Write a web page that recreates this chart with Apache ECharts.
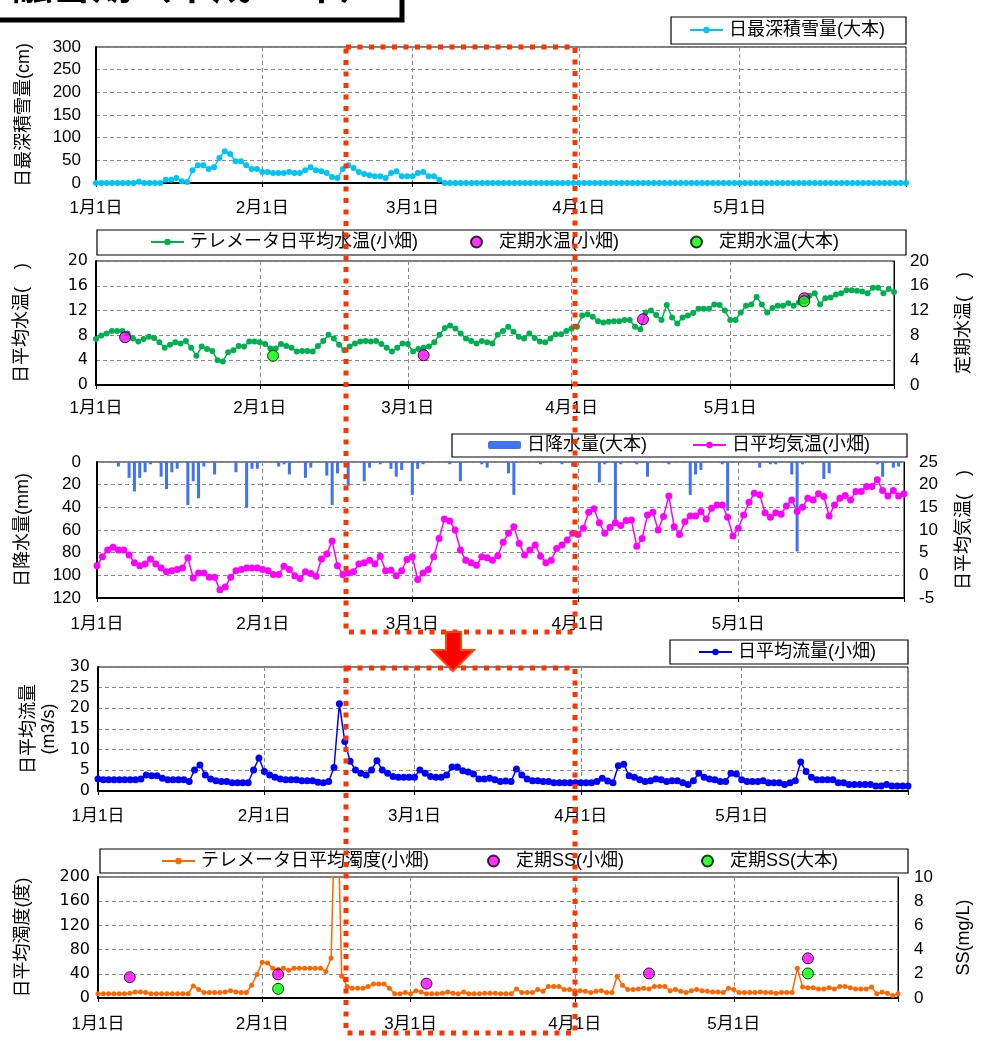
<!DOCTYPE html>
<html>
<head>
<meta charset="utf-8">
<script src="https://cdn.jsdelivr.net/npm/echarts@6/dist/echarts.min.js"></script>
<style>
  html, body { margin: 0; padding: 0; background: #fff; }
  #chart { width: 982px; height: 1042px; }
</style>
</head>
<body>
<div id="chart"></div>
<script>
// x axis: day index from 1月1日 (0) to 6月1日 (151)
const monthTicks = [0, 31, 59, 90, 120];
const monthLabels = ['1月1日', '2月1日', '3月1日', '4月1日', '5月1日'];
const lastDay = 151;

// 日最深積雪量(大本) cm, one value per day
const snowDepth = [
  0, 0, 0, 0, 0, 0, 0, 0, 3, 0, 0, 0, 0, 7, 7, 11, 4, 2, 28, 39,
  39, 31, 35, 55, 70, 64, 48, 48, 39, 31, 31, 24, 24, 22, 22, 22, 24, 22, 22, 28,
  35, 28, 26, 22, 13, 11, 31, 39, 33, 24, 20, 17, 15, 15, 11, 22, 26, 15, 15, 15,
  22, 24, 15, 15, 7, 0, 0, 0, 0, 0, 0, 0, 0, 0, 0, 0, 0, 0, 0, 0,
  0, 0, 0, 0, 0, 0, 0, 0, 0, 0, 0, 0, 0, 0, 0, 0, 0, 0, 0, 0,
  0, 0, 0, 0, 0, 0, 0, 0, 0, 0, 0, 0, 0, 0, 0, 0, 0, 0, 0, 0,
  0, 0, 0, 0, 0, 0, 0, 0, 0, 0, 0, 0, 0, 0, 0, 0, 0, 0, 0, 0,
  0, 0, 0, 0, 0, 0, 0, 0, 0, 0, 0, 0
];

// テレメータ日平均水温(小畑)
const waterTemp = [
  7.4, 8.0, 8.3, 8.7, 8.7, 8.7, 8.3, 7.5, 7.0, 7.4, 7.8, 7.6, 6.9, 6.0, 6.5, 6.9, 6.7, 7.1, 6.0, 4.7,
  6.2, 5.8, 5.5, 4.0, 3.8, 5.3, 5.6, 6.3, 6.2, 7.0, 7.0, 6.9, 6.6, 5.9, 5.9, 6.6, 6.3, 6.0, 5.4, 5.5,
  5.5, 5.4, 6.3, 7.1, 8.1, 7.5, 6.5, 5.6, 6.2, 6.7, 7.0, 7.1, 7.0, 7.1, 6.6, 6.0, 5.4, 6.0, 6.7, 6.6,
  5.4, 5.8, 6.0, 6.2, 6.9, 8.1, 9.2, 9.6, 9.1, 8.3, 7.5, 7.1, 6.7, 7.1, 6.9, 6.7, 8.1, 8.7, 9.4, 8.6,
  7.8, 7.5, 8.3, 7.6, 7.0, 6.9, 7.5, 8.2, 8.2, 8.7, 9.1, 9.4, 11.2, 11.4, 11.0, 10.3, 10.1, 10.2, 10.3, 10.3,
  10.5, 10.5, 9.4, 9.0, 11.7, 12.0, 11.3, 10.5, 12.9, 10.9, 9.9, 10.9, 11.2, 11.6, 12.3, 12.3, 12.3, 13.0, 12.9, 12.0,
  10.5, 10.5, 11.7, 12.8, 13.0, 14.2, 13.0, 11.7, 12.4, 12.8, 12.8, 13.2, 12.8, 13.3, 14.0, 14.4, 14.8, 13.0, 14.0, 14.1,
  14.6, 14.8, 15.3, 15.3, 15.2, 15.1, 14.8, 15.7, 15.7, 14.8, 15.5, 15.0
];
// 定期水温
const tempObataDays = [5.5, 62, 103.5, 134];
const tempObata = [7.7, 4.8, 10.6, 14.0];
const tempOhmotoDays = [33.5, 134];
const tempOhmoto = [4.7, 13.5];

// 日降水量(大本) mm
const rainDays = [4, 6, 7, 8, 9, 10, 12, 13, 14, 15, 17, 18, 19, 20, 22, 26, 28, 29, 30, 34,
  35, 36, 39, 40, 43, 44, 45, 47, 50, 51, 53, 55, 56, 57, 59, 60, 61, 66, 68, 72,
  73, 77, 78, 83, 87, 89, 94, 95, 97, 98, 101, 103, 107, 111, 112, 113, 117, 118, 124, 126,
  127, 130, 131, 132, 136, 137, 146, 147, 149, 150];
const rainMm = [4, 14, 26, 14, 9, 2, 13, 24, 9, 6, 38, 17, 32, 4, 11, 9, 40, 6, 6, 4,
  2, 11, 14, 5, 12, 38, 10, 21, 17, 5, 2, 6, 13, 7, 29, 6, 2, 2, 17, 2,
  5, 10, 29, 2, 2, 4, 18, 2, 51, 2, 2, 13, 2, 29, 11, 7, 2, 43, 5, 2,
  2, 11, 79, 2, 15, 10, 2, 13, 5, 4];

// 日平均気温(小畑)
const airTemp = [
  2.1, 4.1, 5.6, 6.2, 5.6, 5.6, 4.5, 2.8, 2.1, 2.5, 3.6, 2.5, 1.6, 0.8, 1.0, 1.3, 1.6, 3.9, -0.6, 0.5,
  0.5, -0.4, -0.4, -3.2, -2.6, -0.4, 1.0, 1.3, 1.6, 1.6, 1.6, 1.3, 1.0, 0.2, 0.2, 2.0, 1.3, -0.1, -0.7, 0.8,
  0.4, -0.2, 3.6, 4.7, 7.6, 2.1, 0.2, 0.5, 0.8, 2.5, 2.8, 3.3, 2.5, 4.2, 1.0, 1.1, -0.1, 1.0, 3.5, 4.1,
  -0.9, 0.5, 1.3, 4.1, 8.1, 12.4, 12.0, 10.0, 5.6, 3.3, 2.8, 2.2, 4.1, 3.9, 3.3, 4.3, 7.3, 9.3, 10.7, 7.0,
  4.5, 5.6, 6.7, 4.2, 2.8, 3.3, 5.9, 6.7, 7.8, 9.3, 9.0, 10.4, 13.9, 14.7, 11.6, 9.3, 10.6, 11.6, 11.0, 12.1,
  12.2, 6.4, 8.1, 13.3, 13.9, 10.0, 13.0, 17.5, 10.7, 9.0, 11.8, 13.1, 13.1, 14.1, 12.4, 14.8, 15.5, 15.5, 12.8, 8.7,
  10.4, 13.3, 16.1, 18.1, 17.8, 13.8, 12.8, 13.8, 13.5, 15.3, 16.6, 14.1, 15.0, 17.0, 16.6, 18.0, 17.4, 13.1, 15.5, 17.0,
  17.6, 16.6, 18.5, 18.5, 19.6, 19.6, 21.1, 18.7, 17.5, 18.7, 17.5, 18.0
];

// 日平均流量(小畑) m3/s
const flow = [
  2.9, 2.7, 2.7, 2.7, 2.7, 2.7, 2.7, 2.7, 2.9, 3.9, 3.7, 3.7, 3.1, 2.7, 2.7, 2.7, 2.7, 2.3, 5.1, 6.3,
  3.9, 2.9, 2.5, 2.3, 2.3, 2.0, 2.0, 2.0, 2.0, 5.1, 8.0, 4.7, 3.9, 3.3, 2.9, 2.7, 2.7, 2.7, 2.5, 2.5,
  2.5, 2.1, 2.0, 2.3, 5.7, 21.1, 12.0, 7.2, 5.1, 4.3, 3.9, 5.1, 7.3, 5.1, 4.3, 3.5, 3.3, 3.3, 3.3, 3.3,
  5.1, 4.3, 3.5, 3.3, 3.3, 3.9, 5.8, 5.8, 4.9, 4.6, 4.1, 2.9, 2.9, 3.1, 2.7, 2.3, 2.4, 2.3, 5.3, 3.9,
  2.9, 2.5, 2.5, 2.3, 2.3, 2.0, 2.0, 2.0, 2.0, 2.0, 2.0, 2.0, 2.0, 2.3, 3.1, 2.4, 2.0, 6.1, 6.5, 3.7,
  3.3, 2.7, 2.3, 2.5, 2.9, 2.7, 2.3, 2.5, 2.5, 2.0, 1.6, 2.5, 4.3, 3.3, 2.9, 2.7, 2.3, 2.3, 4.3, 4.1,
  2.7, 2.3, 2.3, 2.3, 2.5, 2.0, 2.0, 2.0, 1.6, 2.0, 2.5, 7.0, 4.7, 3.3, 2.7, 2.7, 2.7, 2.7, 2.0, 2.0,
  1.6, 1.6, 1.6, 1.6, 1.6, 1.2, 1.2, 1.6, 1.2, 1.2, 1.2, 1.2
];

// テレメータ日平均濁度(小畑) 度
const turbidity = [
  7, 7, 7, 7, 7, 7, 8, 10, 10, 9, 7, 7, 7, 7, 7, 7, 7, 7, 20, 14,
  9, 9, 9, 9, 10, 12, 10, 9, 9, 21, 39, 59, 58, 49, 47, 49, 46, 49, 49, 49,
  49, 49, 49, 44, 66, 400, 36, 19, 16, 16, 16, 19, 23, 23, 23, 16, 7, 7, 9, 7,
  12, 10, 7, 7, 7, 8, 10, 8, 7, 10, 7, 7, 7, 8, 8, 8, 7, 7, 7, 15,
  9, 9, 9, 14, 11, 19, 19, 19, 14, 14, 12, 12, 11, 9, 11, 12, 9, 9, 36, 21,
  14, 14, 15, 16, 15, 19, 19, 19, 12, 14, 11, 9, 12, 14, 12, 11, 10, 10, 9, 16,
  14, 9, 9, 9, 9, 10, 9, 9, 8, 9, 9, 9, 49, 18, 17, 17, 15, 15, 17, 15,
  19, 19, 17, 15, 15, 15, 18, 7, 10, 8, 4, 7
];
// 定期SS mg/L
const ssObataDays = [6, 34, 62, 104, 134];
const ssObata = [1.72, 1.95, 1.19, 2.03, 3.28];
const ssOhmotoDays = [34, 134];
const ssOhmoto = [0.76, 2.03];

const FONT = '"Liberation Sans", "Noto Sans CJK JP", sans-serif';
const FONT_WIDE = '"DejaVu Sans", "Noto Sans CJK JP", sans-serif';

const daily = arr => arr.map((v, i) => [i, v]);
const pairs = (xs, ys) => xs.map((x, i) => [x, ys[i]]);

const grids = [
  { left: 96, top: 47, width: 810, height: 136 },
  { left: 96, top: 261, width: 810, height: 124 },
  { left: 97, top: 462, width: 810, height: 136 },
  { left: 98, top: 667, width: 810, height: 124 },
  { left: 98, top: 877, width: 811, height: 121 }
].map(g => Object.assign(g, { show: true, borderColor: '#000', borderWidth: 1, backgroundColor: '#fff' }));

function makeX(gridIndex, margin) {
  return {
    type: 'value', gridIndex, min: 0, max: lastDay,
    axisLine: { onZero: false, lineStyle: { color: '#000', width: 2 } },
    axisTick: { show: true, customValues: monthTicks.concat([lastDay]), length: 4, lineStyle: { color: '#000' } },
    axisLabel: {
      customValues: monthTicks, margin, fontSize: 17, color: '#000', fontFamily: FONT,
      formatter: v => monthLabels[monthTicks.indexOf(v)] || ''
    },
    splitLine: { show: true, lineStyle: { color: '#8a8a8a', type: [4, 3] } }
  };
}

function makeY(gridIndex, min, max, interval, opts) {
  const right = opts.position === 'right';
  return {
    type: 'value', gridIndex, min, max, interval,
    position: opts.position || 'left',
    inverse: !!opts.inverse,
    name: opts.name, nameLocation: 'middle', nameGap: opts.nameGap, nameRotate: 90,
    nameTextStyle: { fontSize: 18, color: '#000', fontFamily: FONT, lineHeight: 20 },
    axisLine: { show: true, onZero: false, lineStyle: { color: '#000', width: right ? 1 : 2 } },
    axisTick: { show: false },
    axisLabel: { fontSize: opts.wide ? 16 : 17, color: '#000', fontFamily: opts.wide ? FONT_WIDE : FONT, margin: opts.margin },
    splitLine: { show: !right, lineStyle: { color: '#8a8a8a', type: [4, 3] } }
  };
}

const xAxis = [makeX(0, 17), makeX(1, 15), makeX(2, 18), makeX(3, 17), makeX(4, 18)];
const yAxis = [
  makeY(0, 0, 300, 50, { name: '日最深積雪量(cm)', nameGap: 62, margin: 15 }),
  makeY(1, 0, 20, 4, { name: '日平均水温(　)', nameGap: 64, margin: 8, wide: true }),
  makeY(1, 0, 20, 4, { name: '定期水温(　)', nameGap: 60, margin: 16, position: 'right' }),
  makeY(2, 0, 120, 20, { name: '日降水量(mm)', nameGap: 64, margin: 16, inverse: true }),
  makeY(2, -5, 25, 5, { name: '日平均気温(　)', nameGap: 50, margin: 15, position: 'right' }),
  makeY(3, 0, 30, 5, { name: '日平均流量\n(m3/s)', nameGap: 38, margin: 8, wide: true }),
  makeY(4, 0, 200, 40, { name: '日平均濁度(度)', nameGap: 65, margin: 8, wide: true }),
  makeY(4, 0, 10, 2, { name: 'SS(mg/L)', nameGap: 56, margin: 16, position: 'right' })
];

function lineSeries(name, data, xi, yi, color, size) {
  return {
    name, type: 'line', data, xAxisIndex: xi, yAxisIndex: yi,
    symbol: 'circle', symbolSize: size, showAllSymbol: true,
    lineStyle: { color, width: 1.5 }, itemStyle: { color },
    clip: true, z: 3
  };
}
function dotSeries(name, data, xi, yi, color) {
  return {
    name, type: 'scatter', data, xAxisIndex: xi, yAxisIndex: yi,
    symbol: 'circle', symbolSize: 11,
    itemStyle: { color, borderColor: '#000', borderWidth: 1 }, z: 4
  };
}

const series = [
  lineSeries('日最深積雪量(大本)', daily(snowDepth), 0, 0, '#00C4F4', 6),
  lineSeries('テレメータ日平均水温(小畑)', daily(waterTemp), 1, 1, '#00B050', 6),
  dotSeries('定期水温(小畑)', pairs(tempObataDays, tempObata), 1, 2, '#FF00FF'),
  dotSeries('定期水温(大本)', pairs(tempOhmotoDays, tempOhmoto), 1, 2, '#00FF00'),
  {
    name: '日降水量(大本)', type: 'bar', data: pairs(rainDays, rainMm),
    xAxisIndex: 2, yAxisIndex: 3, barWidth: 3, itemStyle: { color: '#3F73F4' }, z: 2
  },
  lineSeries('日平均気温(小畑)', daily(airTemp), 2, 4, '#FF00FF', 7),
  lineSeries('日平均流量(小畑)', daily(flow), 3, 5, '#0000FF', 7),
  lineSeries('テレメータ日平均濁度(小畑)', daily(turbidity), 4, 6, '#FF6600', 5),
  dotSeries('定期SS(小畑)', pairs(ssObataDays, ssObata), 4, 7, '#FF00FF'),
  dotSeries('定期SS(大本)', pairs(ssOhmotoDays, ssOhmoto), 4, 7, '#00FF00')
];

function legendItem(name, left, top, icon) {
  const l = {
    data: [name], left, top, padding: 0, itemGap: 0,
    itemWidth: 33, itemHeight: 8, z: 6,
    selectedMode: false,
    textStyle: { fontSize: 18, color: '#000', fontFamily: FONT, padding: [0, 0, 0, 1] }
  };
  if (icon === 'dot') { l.itemHeight = 11; }
  return l;
}

const legend = [
  legendItem('日最深積雪量(大本)', 689, 21),
  legendItem('テレメータ日平均水温(小畑)', 150, 233),
  legendItem('定期水温(小畑)', 470, 233, 'dot'),
  legendItem('定期水温(大本)', 690, 233, 'dot'),
  legendItem('日降水量(大本)', 488, 436),
  legendItem('日平均気温(小畑)', 692, 436),
  legendItem('日平均流量(小畑)', 698, 643),
  legendItem('テレメータ日平均濁度(小畑)', 161, 852),
  legendItem('定期SS(小畑)', 487, 852, 'dot'),
  legendItem('定期SS(大本)', 701, 852, 'dot')
];

const legendBox = (x, y, w, h) => ({
  type: 'rect', z: 1, shape: { x, y, width: w, height: h },
  style: { fill: '#fff', stroke: '#000', lineWidth: 1.2 }
});
const redDots = { fill: null, stroke: '#FF3300', lineWidth: 5, lineDash: [5, 6.5] };

const graphic = [
  { type: 'rect', shape: { x: -10, y: -60, width: 412, height: 80 }, style: { fill: '#fff', stroke: '#000', lineWidth: 5 }, z: 1 },
  { type: 'text', x: 12, y: -36, z: 2, style: { text: '融雪期（平成25年）', font: 'bold 40px "Noto Sans CJK JP"', fill: '#000' } },
  legendBox(671, 17, 235, 27),
  legendBox(97, 230, 809, 25),
  legendBox(452, 434, 455, 23),
  legendBox(670, 640, 238, 24),
  legendBox(100, 849, 808, 24),
  { type: 'rect', z: 100, shape: { x: 346, y: 47, width: 229, height: 585 }, style: redDots },
  { type: 'rect', z: 100, shape: { x: 346, y: 668, width: 229, height: 365 }, style: redDots },
  {
    type: 'polygon', z: 101,
    shape: { points: [[446, 632], [461, 632], [461, 650], [474, 650], [453, 671], [432, 650], [446, 650]] },
    style: { fill: '#FF0000', stroke: '#FF4500', lineWidth: 2 }
  }
];

const chart = echarts.init(document.getElementById('chart'), null, { renderer: 'canvas' });
chart.setOption({
  animation: false,
  backgroundColor: '#fff',
  textStyle: { fontFamily: FONT },
  grid: grids,
  xAxis, yAxis, series, legend, graphic
});
</script>
</body>
</html>
